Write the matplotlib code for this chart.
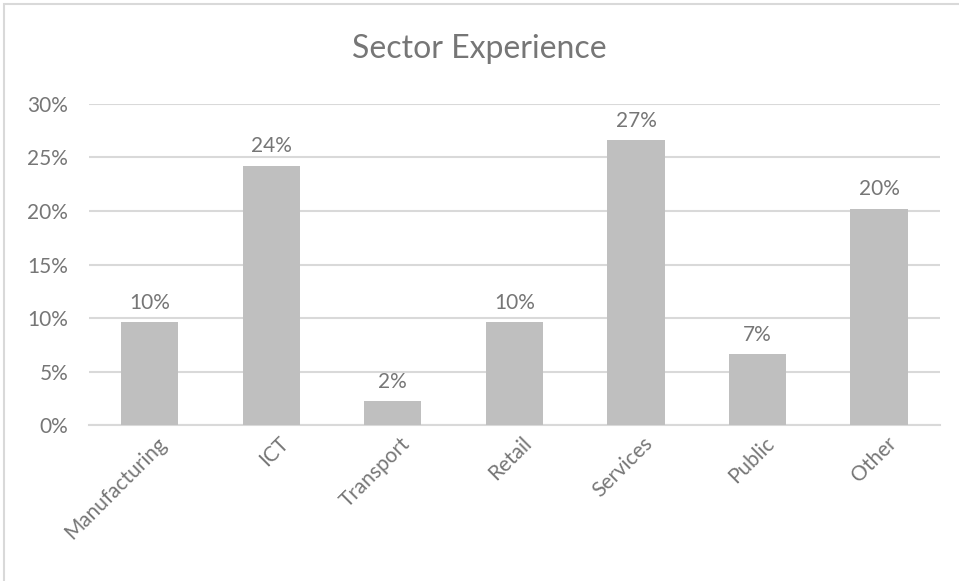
import matplotlib.pyplot as plt
from matplotlib.patches import Rectangle
from matplotlib.ticker import PercentFormatter, MultipleLocator
import matplotlib.transforms as mtransforms

sectors = ['Manufacturing', 'ICT', 'Transport', 'Retail', 'Services', 'Public', 'Other']
shares = [9.6, 24.2, 2.2, 9.6, 26.6, 6.6, 20.2]

grey_text = '#767676'
bar_col = '#BFBFBF'
grid_col = '#D9D9D9'

plt.rcParams['font.family'] = ['Lato', 'DejaVu Sans']

fig = plt.figure(figsize=(9.59, 5.81), dpi=100)
ax = fig.add_axes([0.0928, 0.2685, 0.8872, 0.5525])

x = range(len(sectors))
ax.bar(x, shares, width=0.47, color=bar_col, zorder=3)

for xi, v in zip(x, shares):
    ax.annotate(f'{v:.0f}%', (xi, v), xytext=(0, 7), textcoords='offset points',
                ha='center', va='bottom', fontsize=15, color=grey_text)

ax.set_xlim(-0.5, len(sectors) - 0.5)
ax.set_ylim(0, 30)
ax.yaxis.set_major_locator(MultipleLocator(5))
ax.yaxis.set_major_formatter(PercentFormatter(decimals=0))
ax.grid(axis='y', color=grid_col, linewidth=1.5, zorder=0)
ax.set_axisbelow(True)

for s in ['top', 'right', 'left']:
    ax.spines[s].set_visible(False)
ax.spines['bottom'].set_color(grid_col)
ax.spines['bottom'].set_linewidth(1.5)

ax.tick_params(axis='both', length=0, colors=grey_text, labelsize=15)
ax.tick_params(axis='y', pad=15)
ax.tick_params(axis='x', pad=6)
ax.set_xticks(list(x))
ax.set_xticklabels(sectors, rotation=45, ha='right', rotation_mode='anchor')
shift = mtransforms.ScaledTranslation(5 / 72, 0, fig.dpi_scale_trans)
for lbl in ax.get_xticklabels():
    lbl.set_transform(lbl.get_transform() + shift)

fig.text(0.5, 0.915, 'Sector Experience', ha='center', va='center',
         fontsize=23, color=grey_text)

# chart frame
fig.patches.append(Rectangle((4 / 959, -0.1), 1.1, 1.1 - 4 / 581,
                             transform=fig.transFigure, fill=False,
                             edgecolor=grid_col, linewidth=1.5))

fig.savefig('out.png', dpi=100)
